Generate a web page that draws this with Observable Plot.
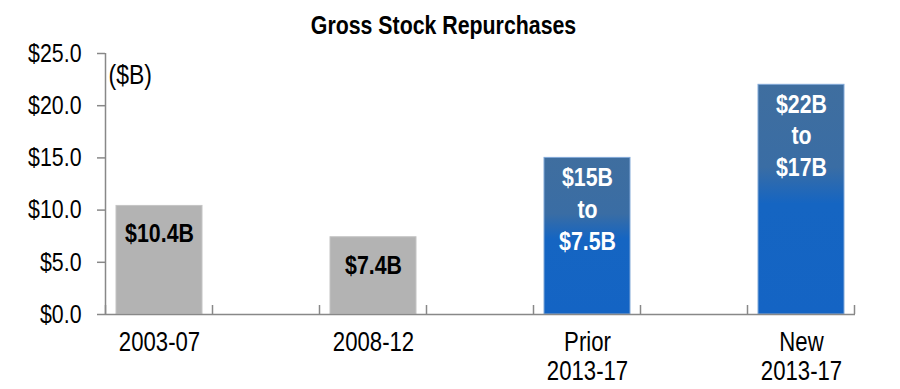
<!DOCTYPE html>
<html><head><meta charset="utf-8">
<script src="https://cdn.jsdelivr.net/npm/d3@7"></script>
<script src="https://cdn.jsdelivr.net/npm/@observablehq/plot@0.6"></script>
<style>body{margin:0;background:#fff}</style>
</head><body><div id="chart"></div>
<script>
const categories = ["2003-07", "2008-12", "Prior\n2013-17", "New\n2013-17"];
const values = [10.4, 7.4, 15, 22];
const barLabels = ["$10.4B", "$7.4B", "$15B\nto\n$7.5B", "$22B\nto\n$17B"];
const barKinds = ["history", "history", "plan", "plan"];
const spacers = ["gap1", "gap2", "gap3"];
const yTicks = [0, 5, 10, 15, 20, 25];
const title = "Gross Stock Repurchases";
const unitLabel = "($B)";

const xDomain = [categories[0], spacers[0], categories[1], spacers[1], categories[2], spacers[2], categories[3]];
const data = categories.map((c, i) => ({category: c, value: values[i], label: barLabels[i], kind: barKinds[i]}));
const hist = data.filter(d => d.kind === "history");
const plan = data.filter(d => d.kind === "plan");

function hasFont(name) {
  const c = document.createElement("canvas").getContext("2d");
  const s = "abcdefghijklmnop $2003-07 WMB";
  c.font = "40px monospace"; const a = c.measureText(s).width;
  c.font = `40px "${name}", monospace`; const b = c.measureText(s).width;
  return Math.abs(a - b) > 1;
}
const narrow = hasFont("Liberation Sans Narrow");
const fontFamily = narrow ? "'Liberation Sans Narrow', 'Arial Narrow', sans-serif" : "'Liberation Sans', Arial, sans-serif";

const axisColor = "#888888";

function frameDecor(index, scales, values, dimensions) {
  const x = scales.x, y = scales.y;
  const step = x.step(), pad = (step - x.bandwidth()) / 2;
  const g = d3.create("svg:g");
  const defs = g.append("defs");
  const grad = defs.append("linearGradient").attr("id", "blueGrad")
    .attr("x1", 0).attr("y1", 0).attr("x2", 0).attr("y2", 1);
  grad.append("stop").attr("offset", "0%").attr("stop-color", "#3f6e9f");
  grad.append("stop").attr("offset", "36%").attr("stop-color", "#3a6da4");
  grad.append("stop").attr("offset", "52%").attr("stop-color", "#1565c2");
  grad.append("stop").attr("offset", "100%").attr("stop-color", "#1464c4");
  const xs = xDomain.map(c => x(c) - pad);
  xs.push(x(xDomain[xDomain.length - 1]) + x.bandwidth() + pad);
  const y0 = y(0);
  g.selectAll("line.bt").data(xs).join("line")
    .attr("x1", d => d).attr("x2", d => d)
    .attr("y1", y0).attr("y2", y0 - 9)
    .attr("stroke", axisColor).attr("stroke-width", 1.5);
  g.append("line")
    .attr("x1", xs[0]).attr("x2", xs[0])
    .attr("y1", y(0)).attr("y2", y(yTicks[yTicks.length - 1]))
    .attr("stroke", axisColor).attr("stroke-width", 1.5);
  return g.node();
}

const chart = Plot.plot({
  width: 900,
  height: 389,
  marginLeft: 105,
  marginRight: 45,
  marginTop: 53,
  marginBottom: 75,
  style: {fontFamily, color: "#000", background: "#fff"},
  x: {domain: xDomain, paddingInner: 0.2, paddingOuter: 0.1},
  y: {domain: [0, 25]},
  marks: [
    Plot.barY(hist, {x: "category", y: "value", fill: "#b3b3b3", stroke: "#c4c4c4", strokeWidth: 1}),
    Plot.barY(plan, {x: "category", y: "value", fill: "url(#blueGrad)", stroke: "#82a9d8", strokeWidth: 1}),
    frameDecor,
    Plot.ruleY([0], {stroke: axisColor, strokeWidth: 1.5}),
    Plot.axisY({ticks: yTicks, tickSize: 8, tickPadding: 16, tickFormat: d => "$" + d.toFixed(1),
      fontSize: 26, stroke: axisColor, strokeWidth: 1.5, fill: "#000", label: null}),
    Plot.axisX({tickSize: 0, tickPadding: 16, fontSize: 27, lineHeight: 1.07, fill: "#000", label: null,
      tickFormat: d => spacers.includes(d) ? "" : d}),
    Plot.text(hist, {x: "category", y: "value", text: "label", lineAnchor: "top", dy: 18,
      fontSize: 26, fontWeight: "bold", fill: "#000"}),
    Plot.text(plan, {x: "category", y: "value", text: "label", lineAnchor: "top", dy: 5,
      fontSize: 26, fontWeight: "bold", fill: "#fff", lineHeight: 1.23}),
    Plot.text([title], {frameAnchor: "top", lineAnchor: "top", dy: -38, dx: -37,
      fontSize: 26, fontWeight: "bold", fill: "#000"}),
    Plot.text([unitLabel], {frameAnchor: "top-left", textAnchor: "start", lineAnchor: "top", dx: 3, dy: 11,
      fontSize: 28, fill: "#000"})
  ]
});
document.getElementById("chart").appendChild(chart);

if (!narrow) {
  d3.select(chart).selectAll("text").each(function() {
    const el = this;
    const parts = el.querySelectorAll("tspan");
    const targets = parts.length ? Array.from(parts) : [el];
    targets.forEach(t => {
      if (!t.textContent) return;
      const len = t.getComputedTextLength();
      t.setAttribute("textLength", (len * 0.82).toFixed(1));
      t.setAttribute("lengthAdjust", "spacingAndGlyphs");
    });
  });
}
</script>
</body></html>
